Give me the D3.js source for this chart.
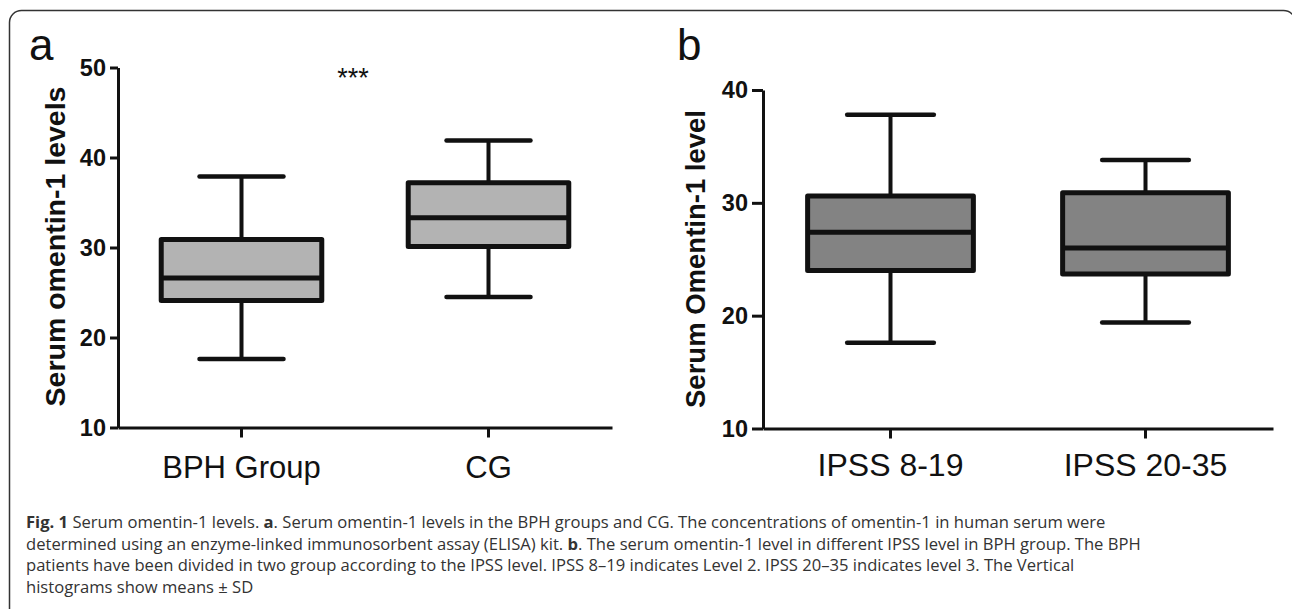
<!DOCTYPE html>
<html>
<head>
<meta charset="utf-8">
<script src="https://cdn.jsdelivr.net/npm/d3@7"></script>
<style>
  body { margin: 0; background: #fff; }
  svg { display: block; }
  .axis path, .axis line { stroke: #111; stroke-width: 3; }
  .tick text { font-family: "Liberation Sans", Arial, sans-serif; font-weight: bold; fill: #111; }
</style>
</head>
<body>
<div class="chart"></div>
<script>
// Box plots of serum omentin-1 (panel a: BPH vs CG, panel b: IPSS level)

var svgWidth = 1292;
var svgHeight = 609;

// panel a data
var catsA = ["BPH Group", "CG"];
var minA = [17.6, 24.5];
var q1A = [24.1, 30.1];
var medA = [26.6, 33.3];
var q3A = [30.9, 37.2];
var maxA = [37.9, 41.9];
var ticksA = [10, 20, 30, 40, 50];

// panel b data
var catsB = ["IPSS 8-19", "IPSS 20-35"];
var minB = [17.6, 19.4];
var q1B = [24.0, 23.7];
var medB = [27.4, 26.0];
var q3B = [30.6, 30.9];
var maxB = [37.8, 33.8];
var ticksB = [10, 20, 30, 40];

var captionLines = [
  [["Fig. 1", true], [" Serum omentin-1 levels. ", false], ["a", true], [". Serum omentin-1 levels in the BPH groups and CG. The concentrations of omentin-1 in human serum were", false]],
  [["determined using an enzyme-linked immunosorbent assay (ELISA) kit. ", false], ["b", true], [". The serum omentin-1 level in different IPSS level in BPH group. The BPH", false]],
  [["patients have been divided in two group according to the IPSS level. IPSS 8\u201319 indicates Level 2. IPSS 20\u201335 indicates level 3. The Vertical", false]],
  [["histograms show means \u00b1 SD", false]]
];

var svg = d3.select(".chart")
    .append("svg")
    .attr("width", svgWidth)
    .attr("height", svgHeight);

// outer frame
svg.append("rect")
    .attr("x", 9.5)
    .attr("y", 10.5)
    .attr("width", 1286)
    .attr("height", 640)
    .attr("rx", 12)
    .attr("fill", "none")
    .attr("stroke", "#333")
    .attr("stroke-width", 1.5);

function drawPanel(opt) {
    var x = d3.scaleBand()
        .domain(opt.cats)
        .range([opt.left, opt.right]);

    var y = d3.scaleLinear()
        .domain([opt.ticks[0], opt.ticks[opt.ticks.length - 1]])
        .range([opt.bottom, opt.top]);

    var g = svg.append("g");

    // y axis
    g.append("g")
        .attr("class", "axis")
        .attr("transform", `translate(${opt.left}, 0)`)
        .call(d3.axisLeft(y).tickValues(opt.ticks).tickSize(opt.tickLen).tickSizeOuter(0).tickPadding(4))
        .call(a => a.selectAll(".tick text").style("font-size", opt.tickFont + "px"));

    // x axis
    g.append("g")
        .attr("class", "axis")
        .attr("transform", `translate(0, ${opt.bottom})`)
        .call(d3.axisBottom(x).tickSize(10).tickSizeOuter(0))
        .call(a => a.selectAll(".tick text")
            .attr("y", 0)
            .attr("dy", opt.catDy)
            .style("font-size", opt.catFont + "px")
            .style("font-weight", "normal"));

    var bw = x.bandwidth() * 0.65;
    var cw = x.bandwidth() * 0.34;
    var cx = d => x(d) + x.bandwidth() / 2;

    var boxes = g.selectAll(".box")
        .data(opt.cats)
        .enter()
        .append("g")
        .attr("class", "box");

    // whisker stems
    boxes.append("line")
        .attr("x1", cx).attr("x2", cx)
        .attr("y1", (d, i) => y(opt.max[i]))
        .attr("y2", (d, i) => y(opt.min[i]))
        .attr("stroke", "#111")
        .attr("stroke-width", 4);

    // caps
    [opt.max, opt.min].forEach(function(vals) {
        boxes.append("line")
            .attr("x1", d => cx(d) - cw / 2)
            .attr("x2", d => cx(d) + cw / 2)
            .attr("y1", (d, i) => y(vals[i]))
            .attr("y2", (d, i) => y(vals[i]))
            .attr("stroke", "#111")
            .attr("stroke-width", 4.5)
            .attr("stroke-linecap", "round");
    });

    boxes.append("rect")
        .attr("x", d => cx(d) - bw / 2)
        .attr("width", bw)
        .attr("y", (d, i) => y(opt.q3[i]))
        .attr("height", (d, i) => y(opt.q1[i]) - y(opt.q3[i]))
        .attr("fill", opt.fill)
        .attr("stroke", "#111")
        .attr("stroke-width", 5)
        .attr("stroke-linejoin", "round");

    boxes.append("line")
        .attr("x1", d => cx(d) - bw / 2)
        .attr("x2", d => cx(d) + bw / 2)
        .attr("y1", (d, i) => y(opt.med[i]))
        .attr("y2", (d, i) => y(opt.med[i]))
        .attr("stroke", "#111")
        .attr("stroke-width", 5);

    // y label
    g.append("text")
        .attr("transform", `translate(${opt.labelX}, ${opt.labelY}) rotate(-90)`)
        .attr("text-anchor", "middle")
        .style("font-family", "'Liberation Sans', Arial, sans-serif")
        .style("font-weight", "bold")
        .style("font-size", opt.labelFont + "px")
        .attr("fill", "#111")
        .text(opt.label);

    // panel letter
    g.append("text")
        .attr("x", opt.letterX)
        .attr("y", 60)
        .style("font-family", "'Liberation Sans', Arial, sans-serif")
        .style("font-size", "44px")
        .attr("fill", "#111")
        .text(opt.letter);

    return { x: x, y: y, g: g };
}

var pa = drawPanel({
    cats: catsA, min: minA, q1: q1A, med: medA, q3: q3A, max: maxA, ticks: ticksA,
    left: 118, right: 612, top: 67.5, bottom: 427.5,
    tickLen: 8, tickFont: 23.5, catFont: 31, catDy: 50,
    fill: "#b3b3b3",
    label: "Serum omentin-1 levels", labelX: 65, labelY: 246.5, labelFont: 28.5,
    letter: "a", letterX: 29
});

// significance stars
pa.g.append("text")
    .attr("x", 353)
    .attr("y", 87)
    .attr("text-anchor", "middle")
    .style("font-family", "'Liberation Sans', Arial, sans-serif")
    .style("font-size", "27px")
    .attr("fill", "#111")
    .text("***");

drawPanel({
    cats: catsB, min: minB, q1: q1B, med: medB, q3: q3B, max: maxB, ticks: ticksB,
    left: 763, right: 1273, top: 90, bottom: 428.5,
    tickLen: 11, tickFont: 23.5, catFont: 32, catDy: 47,
    fill: "#838383",
    label: "Serum Omentin-1 level", labelX: 705, labelY: 259, labelFont: 27.5,
    letter: "b", letterX: 677
});

// caption
var caption = svg.append("g")
    .style("font-family", "'Open Sans', 'Noto Sans', sans-serif")
    .style("font-size", "16.6px")
    .attr("fill", "#333");

captionLines.forEach(function(parts, i) {
    var t = caption.append("text")
        .attr("x", 26)
        .attr("y", 528 + i * 21.5);
    parts.forEach(function(p) {
        t.append("tspan")
            .style("font-weight", p[1] ? "bold" : "normal")
            .text(p[0]);
    });
});
</script>
</body>
</html>
